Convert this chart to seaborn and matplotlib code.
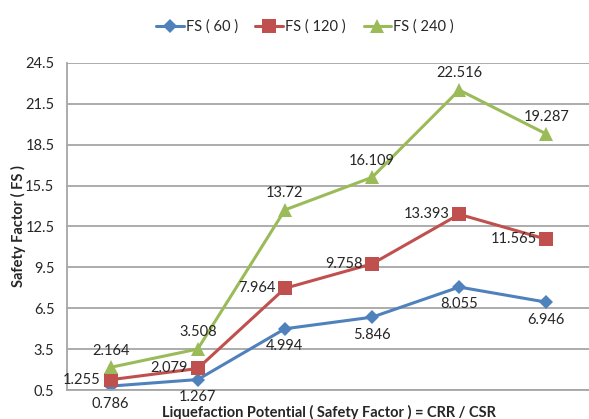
import matplotlib
matplotlib.use("Agg")
import matplotlib.pyplot as plt
import seaborn as sns
import pandas as pd

# Six sampling points along the liquefaction potential axis
points = [1, 2, 3, 4, 5, 6]
series_names = ["FS ( 60 )", "FS ( 120 )", "FS ( 240 )"]
fs_60 = [0.786, 1.267, 4.994, 5.846, 8.055, 6.946]
fs_120 = [1.255, 2.079, 7.964, 9.758, 13.393, 11.565]
fs_240 = [2.164, 3.508, 13.72, 16.109, 22.516, 19.287]
y_ticks = [0.5, 3.5, 6.5, 9.5, 12.5, 15.5, 18.5, 21.5, 24.5]

colors = {"FS ( 60 )": "#4F81BD", "FS ( 120 )": "#C0504D", "FS ( 240 )": "#9BBB59"}
markers = {"FS ( 60 )": "D", "FS ( 120 )": "s", "FS ( 240 )": "^"}
marker_sizes = {"FS ( 60 )": 7, "FS ( 120 )": 9.5, "FS ( 240 )": 10}

frames = []
for name, vals in zip(series_names, [fs_60, fs_120, fs_240]):
    frames.append(pd.DataFrame({"point": points, "value": vals, "series": name}))
df = pd.concat(frames, ignore_index=True)

sns.set_theme(style="white")
plt.rcParams["font.family"] = ["Lato", "DejaVu Sans"]

fig = plt.figure(figsize=(5.89, 4.19), dpi=100)
ax = fig.add_axes([67 / 589, 1 - 390 / 419, (590 - 67) / 589, (390 - 63) / 419])

for name in series_names:
    sub = df[df["series"] == name]
    sns.lineplot(data=sub, x="point", y="value", ax=ax, color=colors[name],
                 marker=markers[name], markersize=marker_sizes[name],
                 markeredgewidth=0, linewidth=2.2, label=name, legend=False)

txt = "#262626"
fs = 10.5
# Data labels: FS(60) below, FS(120) left, FS(240) above
for x, v in zip(points, fs_60):
    ax.annotate(f"{v:g}", (x, v), xytext=(0, -7.5), textcoords="offset points",
                ha="center", va="top", fontsize=fs, color=txt)
for x, v in zip(points, fs_120):
    ax.annotate(f"{v:g}", (x, v), xytext=(-7, 0), textcoords="offset points",
                ha="right", va="center", fontsize=fs, color=txt)
for x, v in zip(points, fs_240):
    ax.annotate(f"{v:g}", (x, v), xytext=(0, 7), textcoords="offset points",
                ha="center", va="bottom", fontsize=fs, color=txt)

ax.set_xlim(0.5, 6.5)
ax.set_ylim(0.5, 24.5)
ax.set_yticks(y_ticks)
ax.set_yticklabels([f"{t:g}" for t in y_ticks], fontsize=fs, color=txt)
ax.set_xticks([])
ax.tick_params(axis="y", length=0, pad=9)
ax.yaxis.grid(True, color="#A6A6A6", linewidth=1.3)
ax.set_axisbelow(True)
for side in ["top", "right"]:
    ax.spines[side].set_visible(False)
for side in ["left", "bottom"]:
    ax.spines[side].set_color("#A6A6A6")
    ax.spines[side].set_linewidth(1.3)

ax.set_xlabel("Liquefaction Potential ( Safety Factor ) = CRR / CSR",
              fontsize=fs, fontweight="bold", color=txt)
ax.xaxis.set_label_coords(0.5, -(412.5 - 390) / 327)
ax.xaxis.label.set_va("center")
ax.set_ylabel("Safety Factor ( FS )", fontsize=fs, fontweight="bold", color=txt)
ax.yaxis.set_label_coords(-(67 - 26) / 523, 0.5)

handles, labels = ax.get_legend_handles_labels()
fig.legend(handles, labels, loc="center", bbox_to_anchor=(305 / 589, 1 - 27 / 419),
           ncol=3, frameon=False, fontsize=fs, handlelength=1.9,
           handletextpad=0.15, columnspacing=1.2)

fig.savefig("out.png", dpi=100, facecolor="white")
